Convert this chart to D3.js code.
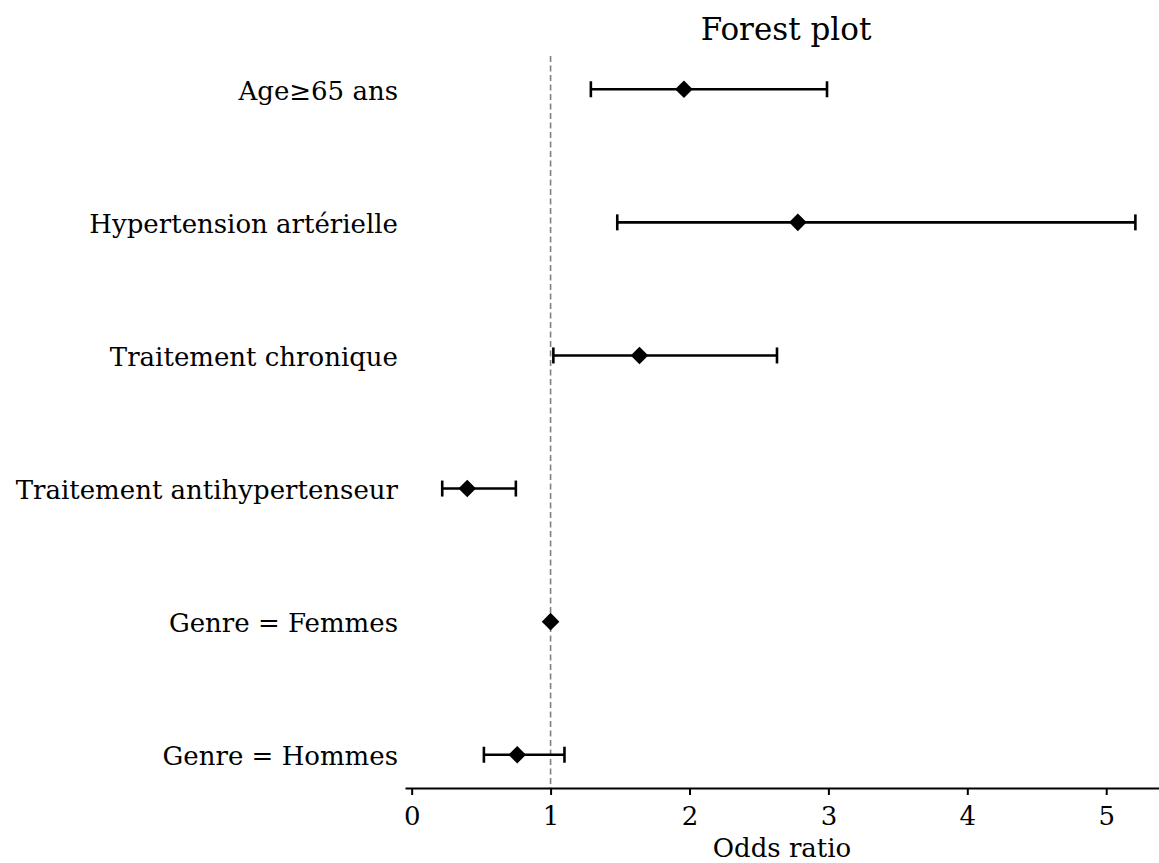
<!DOCTYPE html>
<html>
<head>
<meta charset="utf-8">
<script src="https://cdn.jsdelivr.net/npm/d3@7"></script>
<style>
  body { margin: 0; background: #fff; }
  text { font-family: "DejaVu Serif", serif; fill: #000; }
</style>
</head>
<body>
<div id="chart"></div>
<script>
// rows from top to bottom
var labels = ["Age\u226565 ans", "Hypertension art\u00e9rielle", "Traitement chronique",
              "Traitement antihypertenseur", "Genre = Femmes", "Genre = Hommes"];
var oddsRatio = [1.96, 2.78, 1.64, 0.40, 1.00, 0.76];
var ciLow     = [1.29, 1.48, 1.02, 0.22, 1.00, 0.52];
var ciHigh    = [2.99, 5.21, 2.63, 0.75, 1.00, 1.10];
var xTicks = [0, 1, 2, 3, 4, 5];

var width = 1159, height = 863;
var margin = {top: 56, right: 0, bottom: 75, left: 405};
var innerW = width - margin.left - margin.right,
    innerH = height - margin.top - margin.bottom;

var svg = d3.select("#chart").append("svg")
    .attr("width", width)
    .attr("height", height);

var g = svg.append("g")
    .attr("transform", "translate(" + margin.left + "," + margin.top + ")");

var x = d3.scaleLinear().domain([-0.048, 5.38]).range([0, innerW]);
var n = labels.length;
var y = d3.scaleLinear().domain([-0.25, n - 0.75]).range([innerH, 0]);

var data = labels.map(function(l, i) {
  return {label: l, or: oddsRatio[i], lo: ciLow[i], hi: ciHigh[i], pos: n - 1 - i};
});

// reference line at OR = 1
g.append("line")
    .attr("x1", x(1)).attr("x2", x(1))
    .attr("y1", 0).attr("y2", innerH)
    .attr("stroke", "#808080")
    .attr("stroke-width", 1.6)
    .attr("stroke-dasharray", "6,3.5");

// x axis
var xAxis = d3.axisBottom(x).tickValues(xTicks).tickFormat(d3.format("d"))
    .tickSizeInner(7).tickSizeOuter(0).tickPadding(12);

var ax = g.append("g")
    .attr("transform", "translate(0," + innerH + ")")
    .call(xAxis);
ax.select(".domain").attr("stroke", "#000").attr("stroke-width", 2);
ax.selectAll(".tick line").attr("stroke", "#000").attr("stroke-width", 2);
ax.selectAll(".tick text").style("font-family", "DejaVu Serif").style("font-size", "26px");

// category labels
g.selectAll(".ylab")
    .data(data)
  .enter().append("text")
    .attr("class", "ylab")
    .attr("x", -7)
    .attr("y", function(d) { return y(d.pos); })
    .attr("dy", "0.4em")
    .attr("text-anchor", "end")
    .style("font-size", "26px")
    .text(function(d) { return d.label; });

// error bars
var bars = g.selectAll(".err")
    .data(data.filter(function(d) { return d.hi > d.lo; }))
  .enter().append("g")
    .attr("class", "err")
    .attr("stroke", "#000")
    .attr("stroke-width", 2.6);

bars.append("line")
    .attr("x1", function(d) { return x(d.lo); })
    .attr("x2", function(d) { return x(d.hi); })
    .attr("y1", function(d) { return y(d.pos); })
    .attr("y2", function(d) { return y(d.pos); });

bars.append("line")
    .attr("x1", function(d) { return x(d.lo); })
    .attr("x2", function(d) { return x(d.lo); })
    .attr("y1", function(d) { return y(d.pos) - 8; })
    .attr("y2", function(d) { return y(d.pos) + 8; });

bars.append("line")
    .attr("x1", function(d) { return x(d.hi); })
    .attr("x2", function(d) { return x(d.hi); })
    .attr("y1", function(d) { return y(d.pos) - 8; })
    .attr("y2", function(d) { return y(d.pos) + 8; });

// diamond markers
g.selectAll(".pt")
    .data(data)
  .enter().append("path")
    .attr("class", "pt")
    .attr("d", d3.symbol().type(d3.symbolSquare).size(155))
    .attr("transform", function(d) { return "translate(" + x(d.or) + "," + y(d.pos) + ") rotate(45)"; })
    .attr("fill", "#000");

// title and axis label
svg.append("text")
    .attr("x", margin.left + innerW / 2 + 4)
    .attr("y", 40)
    .attr("text-anchor", "middle")
    .style("font-size", "31px")
    .text("Forest plot");

svg.append("text")
    .attr("x", margin.left + innerW / 2)
    .attr("y", 857)
    .attr("text-anchor", "middle")
    .style("font-size", "26px")
    .text("Odds ratio");
</script>
</body>
</html>
